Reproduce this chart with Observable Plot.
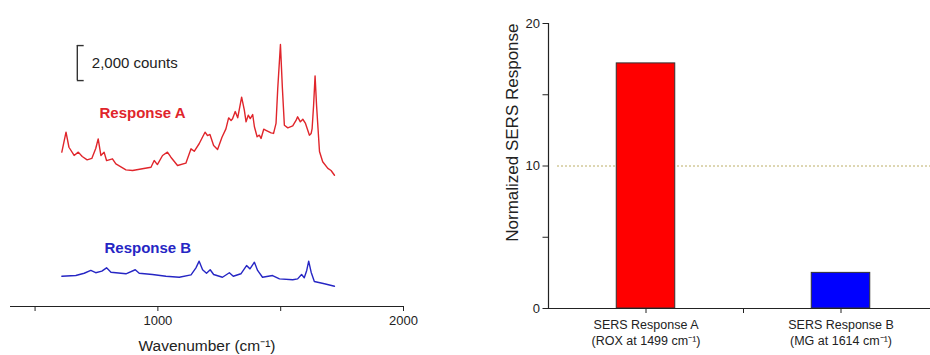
<!DOCTYPE html>
<html>
<head>
<meta charset="utf-8">
<script src="https://cdn.jsdelivr.net/npm/d3@7"></script>
<script src="https://cdn.jsdelivr.net/npm/@observablehq/plot@0.6"></script>
<style>
  html, body { margin: 0; padding: 0; background: #fff; overflow: hidden; }
  #figure { position: relative; width: 930px; height: 355px; overflow: hidden; }
  #figure svg { position: absolute; top: 0; }
</style>
</head>
<body>
<div id="figure"></div>
<script>
// ---- Spectra (wavenumber in cm⁻¹, intensity in counts, traces stacked) ----
const wavenumberA = [609, 626, 638, 659, 676, 692, 712, 731, 747, 757, 768, 781, 791, 815, 829, 870, 897, 937, 972, 985,
  998, 1019, 1039, 1053, 1080, 1114, 1135, 1148, 1168, 1192, 1202, 1212, 1227, 1243, 1261, 1277, 1288, 1298, 1304, 1315,
  1325, 1341, 1352, 1359, 1368, 1376, 1386, 1393, 1404, 1413, 1420, 1431, 1440, 1461, 1471, 1481, 1488, 1499, 1507, 1515,
  1529, 1549, 1563, 1569, 1580, 1590, 1601, 1617, 1624, 1628, 1634, 1640, 1646, 1652, 1658, 1671, 1692, 1705, 1719];
const countsA = [8820, 9960, 9100, 8630, 8820, 8570, 8380, 8460, 9030, 9580, 8630, 8820, 8340, 8440, 8150, 7810, 7770, 7870, 7960, 8340,
  8110, 8630, 8820, 8530, 8060, 8190, 9010, 8870, 9300, 9960, 9770, 9830, 9200, 8970, 9670, 10150, 10780, 10630, 10730, 11140,
  10780, 11960, 11220, 10550, 10930, 10740, 10970, 10270, 9700, 9790, 9600, 10130, 10070, 9920, 9890, 10460, 12460, 14970, 12460, 10360,
  10210, 10320, 10650, 10840, 10550, 10700, 10460, 9790, 9890, 10170, 11500, 13180, 11500, 10170, 8860, 8270, 7890, 7770, 7500];

const wavenumberB = [609, 666, 700, 727, 747, 772, 791, 809, 870, 908, 924, 978, 1033, 1087, 1135, 1155, 1168, 1182, 1198, 1213,
  1227, 1263, 1291, 1307, 1338, 1361, 1375, 1393, 1406, 1426, 1467, 1495, 1549, 1569, 1585, 1596, 1606, 1614, 1624, 1637,
  1678, 1719];
const countsB = [1730, 1770, 1900, 2060, 1930, 2020, 2210, 1960, 1870, 2100, 1900, 1830, 1730, 1670, 1810, 2210, 2590, 2100, 1900, 2100,
  1830, 1670, 1930, 1730, 1870, 2340, 2150, 2530, 2060, 1670, 1770, 1580, 1530, 1580, 1830, 1640, 2060, 2590, 1960, 1430,
  1300, 1160];

const seriesNames = ["Response A", "Response B"];
const xTickValues = [500, 1000, 1500, 2000];
const xTickLabels = ["", "1000", "", "2000"];
const scaleBarCounts = 2000;

// ---- Normalized SERS response bars ----
const barCategories = ["SERS Response A", "SERS Response B"];
const barSubLabels = ["(ROX at 1499 cm\u207B\u00B9)", "(MG at 1614 cm\u207B\u00B9)"];
const barValues = [17.2, 2.5];
const barColors = ["#ff0000", "#0000ff"];
const yTickValues = [0, 5, 10, 15, 20];
const yTickLabels = ["0", "", "10", "", "20"];
const referenceLevel = 10;

const FONT = "'Liberation Sans', Arial, Helvetica, sans-serif";
const colorA = "#e0252b";
const colorB = "#2626c4";
const ink = "#222";

const spectrumA = wavenumberA.map((w, i) => ({wavenumber: w, counts: countsA[i]}));
const spectrumB = wavenumberB.map((w, i) => ({wavenumber: w, counts: countsB[i]}));

// scale bar placement (annotation)
const barX = 672, barBase = 12910;

const spectra = Plot.plot({
  width: 470, height: 355,
  marginLeft: 10, marginRight: 67, marginTop: 20, marginBottom: 49,
  style: {fontFamily: FONT, fontSize: "13px", color: ink, background: "transparent"},
  x: {domain: [400, 2000]},
  y: {domain: [0, 16343], axis: null},
  marks: [
    Plot.ruleY([0], {stroke: ink, strokeWidth: 1.2}),
    Plot.axisX(xTickValues, {
      tickFormat: d => xTickLabels[xTickValues.indexOf(d)],
      tickSize: 5, tickPadding: 4, label: null, fontSize: 13, stroke: ink
    }),
    Plot.text(["Wavenumber (cm\u207B\u00B9)"], {frameAnchor: "bottom", dy: 44, fontSize: 15.5, fill: ink}),
    Plot.line(spectrumA, {x: "wavenumber", y: "counts", stroke: colorA, strokeWidth: 1.4}),
    Plot.line(spectrumB, {x: "wavenumber", y: "counts", stroke: colorB, strokeWidth: 1.4}),
    Plot.text([seriesNames[0]], {frameAnchor: "top-left", lineAnchor: "middle", dx: 89, dy: 93, fontSize: 15, fontWeight: "bold", fill: colorA}),
    Plot.text([seriesNames[1]], {frameAnchor: "top-left", lineAnchor: "middle", dx: 94, dy: 228, fontSize: 15, fontWeight: "bold", fill: colorB}),
    // 2,000-count scale bar
    Plot.ruleX([scaleBarCounts], {x: () => barX, y1: () => barBase, y2: d => barBase + d, stroke: "#333", strokeWidth: 1.4}),
    Plot.ruleY([barBase, barBase + scaleBarCounts], {x1: barX, x2: barX + 28, stroke: "#333", strokeWidth: 1.4}),
    Plot.text([scaleBarCounts], {
      x: () => barX + 59, y: d => barBase + d / 2,
      text: d => d3.format(",")(d) + " counts",
      textAnchor: "start", fontSize: 15, fill: ink
    })
  ]
});

const bars = barCategories.map((c, i) => ({index: i, category: c, value: barValues[i], color: barColors[i]}));
const halfBar = 0.15;
const xTicks = barCategories.flatMap((c, i) => i === 0 ? [i + 0.5] : [i, i + 0.5]);
const xTickText = t => {
  const i = t - 0.5;
  return Number.isInteger(i) ? barCategories[i] + "\n" + barSubLabels[i] : "";
};

const response = Plot.plot({
  width: 470, height: 355,
  marginLeft: 78, marginRight: 2, marginTop: 23, marginBottom: 47,
  style: {fontFamily: FONT, fontSize: "13px", color: ink, background: "transparent"},
  x: {domain: [0, barCategories.length], axis: null},
  y: {domain: [0, 20], axis: null},
  marks: [
    Plot.ruleY([referenceLevel], {stroke: "#bcae66", strokeWidth: 1, strokeDasharray: "2,2", insetLeft: 9}),
    Plot.rectY(bars, {
      x1: d => d.index + 0.5 - halfBar, x2: d => d.index + 0.5 + halfBar,
      y: "value", fill: "color", stroke: "#333", strokeWidth: 1
    }),
    Plot.ruleY([0], {stroke: ink, strokeWidth: 1.2}),
    Plot.ruleX([0], {stroke: ink, strokeWidth: 1.2}),
    Plot.axisY(yTickValues, {
      tickFormat: d => yTickLabels[yTickValues.indexOf(d)],
      tickSize: 5.5, tickPadding: 3, label: null, fontSize: 13, stroke: ink
    }),
    Plot.axisX(xTicks, {
      tickFormat: xTickText, tickSize: 5, tickPadding: 4, label: null,
      fontSize: 12.5, lineHeight: 1.28, stroke: ink
    }),
    Plot.text(["Normalized SERS Response"], {
      frameAnchor: "top-left", rotate: -90, textAnchor: "end", dx: -43, fontSize: 17, fill: ink
    })
  ]
});

const fig = document.getElementById("figure");
spectra.style.left = "0px";
response.style.left = "470px";
fig.append(spectra, response);
</script>
</body>
</html>
